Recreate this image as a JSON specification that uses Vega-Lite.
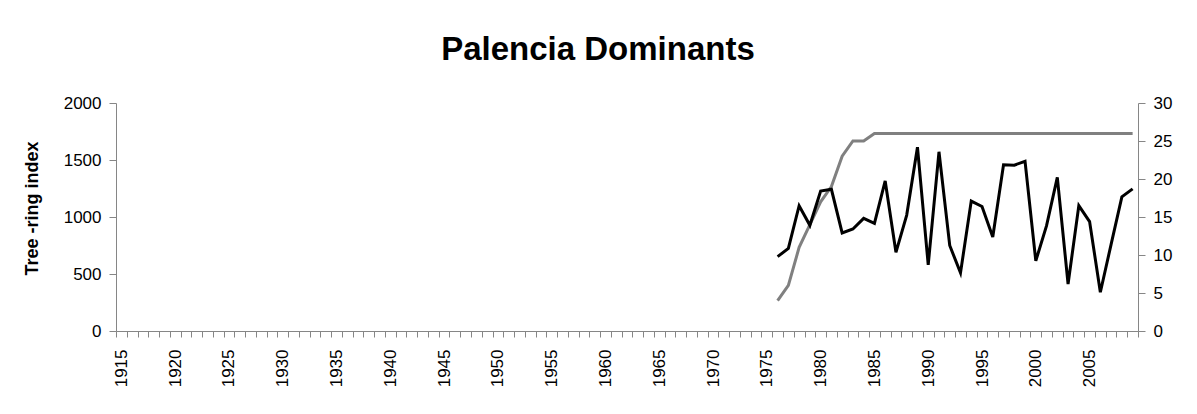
{
  "$schema": "https://vega.github.io/schema/vega-lite/v6.json",
  "autosize": "none",
  "width": 1022,
  "height": 228,
  "padding": {"left": 116, "top": 103, "right": 59, "bottom": 83},
  "background": "white",
  "config": {
    "view": {"stroke": null},
    "font": "Liberation Sans",
    "axis": {"labelFont": "Liberation Sans", "labelColor": "black", "labelFontSize": 17, "domainColor": "#868686", "tickColor": "#868686", "grid": false, "titleFont": "Liberation Sans", "titleColor": "black"}
  },
  "title": {"text": "Palencia Dominants", "fontSize": 33, "font": "Liberation Sans", "fontWeight": "bold", "color": "black", "anchor": "middle", "frame": "group", "dx": -29, "offset": 27},
  "data": {"values": [
    {"year": 1976, "index": 652, "depth": 4},
    {"year": 1977, "index": 725, "depth": 6},
    {"year": 1978, "index": 1099, "depth": 11},
    {"year": 1979, "index": 927, "depth": 14},
    {"year": 1980, "index": 1228, "depth": 17},
    {"year": 1981, "index": 1243, "depth": 19},
    {"year": 1982, "index": 860, "depth": 23},
    {"year": 1983, "index": 895, "depth": 25},
    {"year": 1984, "index": 988, "depth": 25},
    {"year": 1985, "index": 945, "depth": 26},
    {"year": 1986, "index": 1316, "depth": 26},
    {"year": 1987, "index": 690, "depth": 26},
    {"year": 1988, "index": 1017, "depth": 26},
    {"year": 1989, "index": 1612, "depth": 26},
    {"year": 1990, "index": 580, "depth": 26},
    {"year": 1991, "index": 1572, "depth": 26},
    {"year": 1992, "index": 750, "depth": 26},
    {"year": 1993, "index": 510, "depth": 26},
    {"year": 1994, "index": 1140, "depth": 26},
    {"year": 1995, "index": 1092, "depth": 26},
    {"year": 1996, "index": 825, "depth": 26},
    {"year": 1997, "index": 1458, "depth": 26},
    {"year": 1998, "index": 1455, "depth": 26},
    {"year": 1999, "index": 1488, "depth": 26},
    {"year": 2000, "index": 615, "depth": 26},
    {"year": 2001, "index": 924, "depth": 26},
    {"year": 2002, "index": 1348, "depth": 26},
    {"year": 2003, "index": 412, "depth": 26},
    {"year": 2004, "index": 1100, "depth": 26},
    {"year": 2005, "index": 960, "depth": 26},
    {"year": 2006, "index": 340, "depth": 26},
    {"year": 2007, "index": 760, "depth": 26},
    {"year": 2008, "index": 1177, "depth": 26},
    {"year": 2009, "index": 1247, "depth": 26}
  ]},
  "encoding": {
    "x": {
      "field": "year", "type": "ordinal", "bandPosition": 0.5,
      "scale": {"type": "band", "paddingInner": 0, "paddingOuter": 0,
        "domain": [1915,1916,1917,1918,1919,1920,1921,1922,1923,1924,1925,1926,1927,1928,1929,1930,1931,1932,1933,1934,1935,1936,1937,1938,1939,1940,1941,1942,1943,1944,1945,1946,1947,1948,1949,1950,1951,1952,1953,1954,1955,1956,1957,1958,1959,1960,1961,1962,1963,1964,1965,1966,1967,1968,1969,1970,1971,1972,1973,1974,1975,1976,1977,1978,1979,1980,1981,1982,1983,1984,1985,1986,1987,1988,1989,1990,1991,1992,1993,1994,1995,1996,1997,1998,1999,2000,2001,2002,2003,2004,2005,2006,2007,2008,2009]},
      "axis": {"title": null, "labelAngle": -90, "labelExpr": "datum.value % 5 == 0 ? datum.label : ''", "tickBand": "extent", "tickSize": 6, "labelPadding": 12, "labelOverlap": false}
    }
  },
  "layer": [
    {
      "mark": {"type": "line", "color": "#808080", "strokeWidth": 3},
      "encoding": {
        "y": {"field": "depth", "type": "quantitative", "scale": {"domain": [0, 30], "nice": false},
          "axis": {"orient": "right", "title": null, "format": "d", "values": [0,5,10,15,20,25,30], "tickSize": 7, "labelPadding": 8}}
      }
    },
    {
      "mark": {"type": "line", "color": "black", "strokeWidth": 3},
      "encoding": {
        "y": {"field": "index", "type": "quantitative", "scale": {"domain": [0, 2000], "nice": false},
          "axis": {"orient": "left", "title": "Tree -ring index", "format": "d", "titleFontSize": 18, "titleFontWeight": "bold", "values": [0,500,1000,1500,2000], "tickSize": 7, "labelPadding": 8, "titlePadding": 22, "titleY": 105}}
      }
    }
  ],
  "resolve": {"scale": {"y": "independent"}}
}
